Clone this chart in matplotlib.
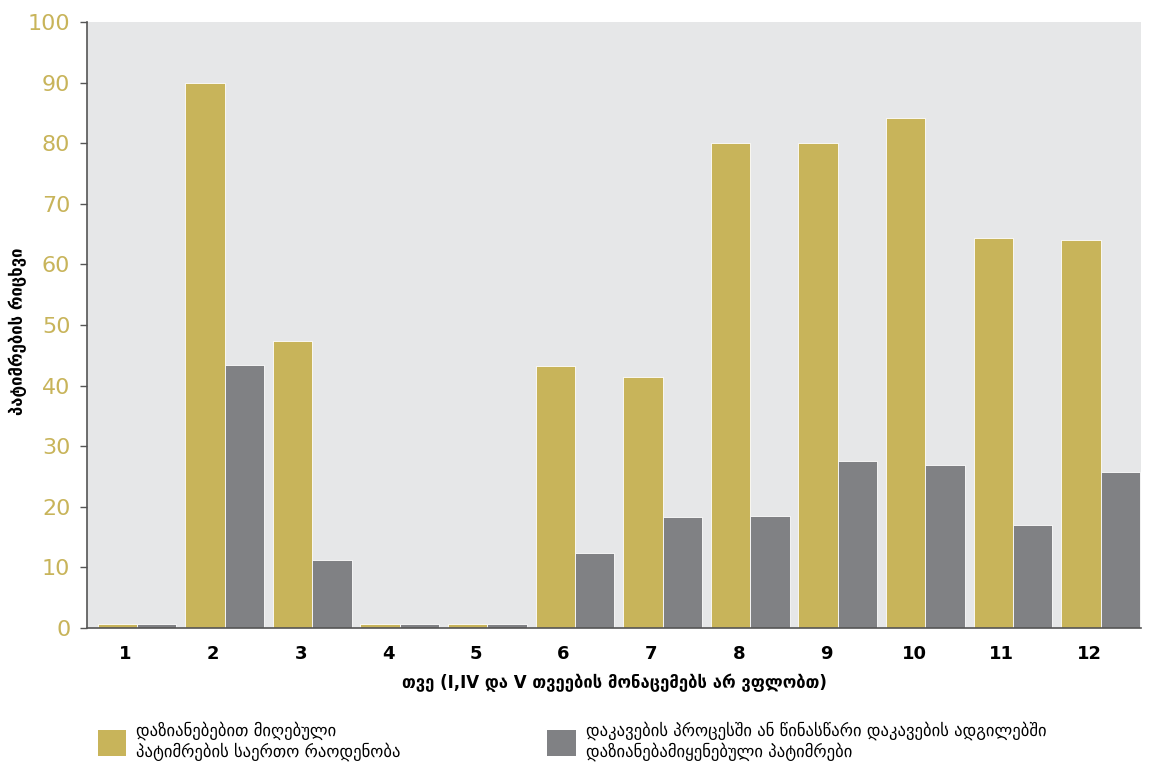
import matplotlib
matplotlib.use("Agg")
import matplotlib.pyplot as plt
import numpy as np
from matplotlib.patches import Patch

months = ["1", "2", "3", "4", "5", "6", "7", "8", "9", "10", "11", "12"]
injured_total = [0.7, 90, 47.4, 0.7, 0.7, 43.2, 41.4, 80, 80, 84.2, 64.4, 64]
injured_detention = [0.7, 43.4, 11.2, 0.7, 0.7, 12.4, 18.3, 18.5, 27.6, 26.9, 17, 25.7]

label_total = "დაზიანებებით მიღებული\nპატიმრების საერთო რაოდენობა"
label_detention = ("დაკავების პროცესში ან წინასწარი დაკავების ადგილებში\n"
                   "დაზიანებამიყენებული პატიმრები")
y_title = "პატიმრების რიცხვი"
x_title = "თვე (I,IV და V თვეების მონაცემებს არ ვფლობთ)"

gold = "#c8b45a"
grey = "#808184"

plt.rcParams["font.family"] = ["DejaVu Sans"]

fig = plt.figure(figsize=(11.51, 7.67), dpi=100)
ax = fig.add_axes([0.0756, 0.1812, 0.9157, 0.7901])
ax.set_facecolor("#e6e7e8")

x = np.arange(len(months))
w = 0.45
ax.bar(x - w / 2, injured_total, width=w, color=gold, edgecolor="white", linewidth=0.6)
ax.bar(x + w / 2, injured_detention, width=w, color=grey, edgecolor="white", linewidth=0.6)

ax.set_xlim(-0.57, 11.46)
ax.set_ylim(0, 100)
ax.set_yticks(np.arange(0, 101, 10))
ax.tick_params(axis="y", direction="out", length=5, width=1, color="#555555",
               labelsize=16, labelcolor=gold, pad=7)
ax.set_xticks(x - 0.13)
ax.set_xticklabels(months, fontsize=13, fontweight="bold")
ax.tick_params(axis="x", length=0, pad=12)

for side in ("top", "right"):
    ax.spines[side].set_visible(False)
for side in ("left", "bottom"):
    ax.spines[side].set_color("#555555")
    ax.spines[side].set_linewidth(1.2)

ax.set_ylabel(y_title, fontsize=12, fontweight="bold")
ax.yaxis.set_label_coords(-0.057, 0.49)
ax.set_xlabel(x_title, fontsize=12, fontweight="bold", labelpad=8)

handles = [Patch(facecolor=gold, label=label_total),
           Patch(facecolor=grey, label=label_detention)]
fig.legend(handles=handles, loc="lower left", bbox_to_anchor=(0.072, -0.012),
           ncol=2, frameon=False, fontsize=12, handlelength=1.7, handleheight=2.0,
           handletextpad=0.6, columnspacing=8.8)

fig.savefig("out.png", dpi=100)
